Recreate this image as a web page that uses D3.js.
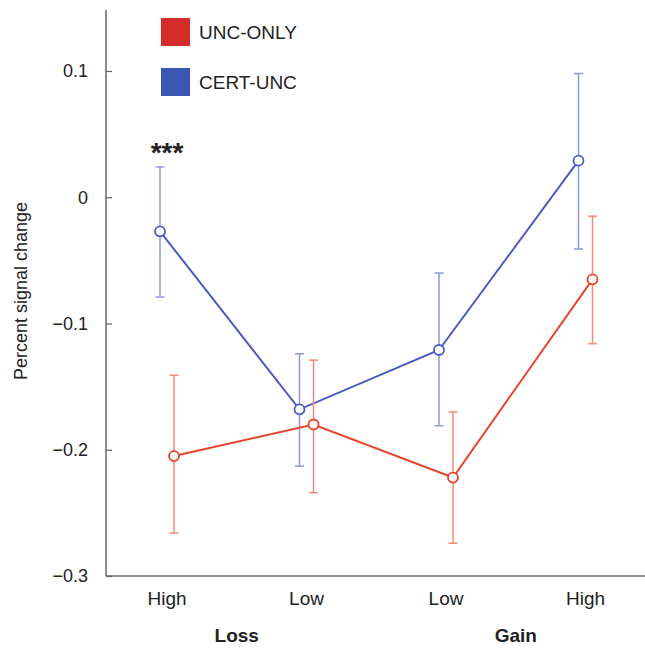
<!DOCTYPE html>
<html>
<head>
<meta charset="utf-8">
<script src="https://cdn.jsdelivr.net/npm/d3@7"></script>
<style>
  body { margin: 0; background: #fff; }
  svg text { font-family: "Liberation Sans", Arial, sans-serif; fill: #222; }
</style>
</head>
<body>
<div id="chart"></div>
<script>
const categories = ["LossHigh", "LossLow", "GainLow", "GainHigh"];
const catLabels = ["High", "Low", "Low", "High"];
const groups = ["Loss", "Gain"];

const certMean = [-0.027, -0.168, -0.121, 0.029];
const certLow = [-0.079, -0.213, -0.181, -0.041];
const certHigh = [0.024, -0.124, -0.060, 0.098];

const uncMean = [-0.205, -0.180, -0.222, -0.065];
const uncLow = [-0.266, -0.234, -0.274, -0.116];
const uncHigh = [-0.141, -0.129, -0.170, -0.015];

const yTicks = [0.1, 0, -0.1, -0.2, -0.3];

const w = 645;
const h = 648;

const series = [
    { name: "CERT-UNC", mean: certMean, lo: certLow, hi: certHigh, offset: -7,
      line: "#4a5bc4", err: "#8e98db", key: "#3b56b3" },
    { name: "UNC-ONLY", mean: uncMean, lo: uncLow, hi: uncHigh, offset: 7,
      line: "#e6442c", err: "#ef8a76", key: "#d42c2b" }
];

const xScale = d3.scalePoint().domain(categories).range([167, 585.5]);
const yScale = d3.scaleLinear().domain([-0.3, 0.1]).range([576, 71]);

const svg = d3.select("#chart")
    .append("svg")
    .attr("width", w)
    .attr("height", h);

// y axis, ticks pointing inward
const yAxis = d3.axisRight(yScale)
    .tickValues(yTicks)
    .tickSize(6)
    .tickFormat((d) => (d === 0 ? "0" : d3.format(".1f")(d).replace("-", "\u2013")));

const yg = svg.append("g")
    .attr("transform", "translate(106,0)")
    .call(yAxis);
yg.select(".domain").remove();
yg.selectAll(".tick line").attr("stroke", "#666").attr("stroke-width", 1.2);
yg.selectAll(".tick text")
    .attr("x", -18)
    .attr("text-anchor", "end")
    .style("font-size", "18px")
    .attr("fill", "#222");

svg.append("line")
    .attr("x1", 106).attr("x2", 106)
    .attr("y1", 10).attr("y2", yScale(-0.3))
    .attr("stroke", "#666").attr("stroke-width", 1.5);

svg.append("line")
    .attr("x1", 106).attr("x2", w)
    .attr("y1", yScale(-0.3)).attr("y2", yScale(-0.3))
    .attr("stroke", "#666").attr("stroke-width", 1.5);

svg.append("text")
    .attr("transform", "translate(27,291) rotate(-90)")
    .attr("text-anchor", "middle")
    .style("font-size", "18px")
    .text("Percent signal change");

// category labels
svg.selectAll(".cat")
    .data(categories)
    .enter()
    .append("text")
    .attr("class", "cat")
    .attr("x", (d) => xScale(d))
    .attr("y", 605)
    .attr("text-anchor", "middle")
    .style("font-size", "19px")
    .text((d, i) => catLabels[i]);

svg.selectAll(".grp")
    .data(groups)
    .enter()
    .append("text")
    .attr("class", "grp")
    .attr("x", (d, i) => (xScale(categories[i * 2]) + xScale(categories[i * 2 + 1])) / 2)
    .attr("y", 642)
    .attr("text-anchor", "middle")
    .style("font-size", "19px")
    .style("font-weight", "bold")
    .text((d) => d);

const line = d3.line();

series.forEach((s) => {
    const g = svg.append("g");
    const px = (i) => xScale(categories[i]) + s.offset;

    // error bars
    s.mean.forEach((m, i) => {
        const x = px(i);
        g.append("line")
            .attr("x1", x).attr("x2", x)
            .attr("y1", yScale(s.hi[i])).attr("y2", yScale(s.lo[i]))
            .attr("stroke", s.err).attr("stroke-width", 1.5);
        [s.hi[i], s.lo[i]].forEach((v) => {
            g.append("line")
                .attr("x1", x - 4.5).attr("x2", x + 4.5)
                .attr("y1", yScale(v)).attr("y2", yScale(v))
                .attr("stroke", s.err).attr("stroke-width", 1.5);
        });
    });

    g.append("path")
        .attr("d", line(s.mean.map((m, i) => [px(i), yScale(m)])))
        .attr("fill", "none")
        .attr("stroke", s.line)
        .attr("stroke-width", 2);

    g.selectAll("circle")
        .data(s.mean)
        .enter()
        .append("circle")
        .attr("cx", (d, i) => px(i))
        .attr("cy", (d) => yScale(d))
        .attr("r", 5)
        .attr("fill", "#fff")
        .attr("stroke", s.line)
        .attr("stroke-width", 1.8);
});

// significance marker
svg.append("text")
    .attr("x", xScale(categories[0]))
    .attr("y", 162)
    .attr("text-anchor", "middle")
    .style("font-size", "28px")
    .style("font-weight", "bold")
    .text("***");

// legend
const legend = [series[1], series[0]];
legend.forEach((s, i) => {
    const y0 = 18 + i * 50;
    svg.append("rect")
        .attr("x", 161).attr("y", y0)
        .attr("width", 29).attr("height", 28)
        .attr("fill", s.key);
    svg.append("text")
        .attr("x", 199).attr("y", y0 + 21)
        .style("font-size", "19px")
        .text(s.name);
});
</script>
</body>
</html>
